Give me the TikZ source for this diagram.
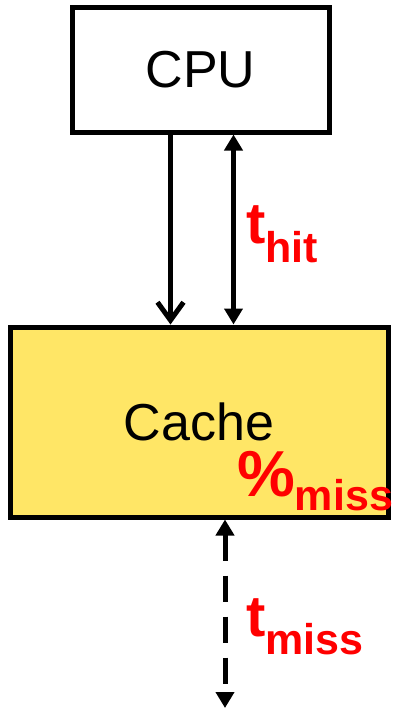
\documentclass[tikz,border=0pt]{standalone}
\usepackage{fontspec}
\setmainfont{Liberation Sans}
\usepackage{xcolor}
\usetikzlibrary{arrows.meta}

\definecolor{cacheyellow}{RGB}{255,230,102}

\begin{document}
\begin{tikzpicture}[x=1pt, y=-1pt,
    unit/.style={draw=black, line width=5pt, inner sep=0pt, font=\fontsize{52}{52}\selectfont},
    lat/.style={red, inner sep=0pt, anchor=base west},
    wire/.style={line width=5pt}]
  \useasboundingbox (0,0) rectangle (392,710);

  % boxes
  \node[unit, minimum width=257pt, minimum height=125pt] (cpu) at (200.5,69.5) {CPU};
  \node[unit, fill=cacheyellow, minimum width=378pt, minimum height=190pt] (cache) at (199,422) {Cache};
  \coordinate (mem) at (225,708);

  % connectors
  \draw[wire, -{Straight Barb[length=18pt, width=26pt]}] ([xshift=-30pt]cpu.south) -- ([xshift=-30pt]cpu.south |- cache.north);
  \draw[wire, {Triangle[length=16pt, width=18pt]}-{Triangle[length=16pt, width=18pt]}] ([xshift=33pt]cpu.south) -- ([xshift=33pt]cpu.south |- cache.north);
  \draw[wire, dash pattern=on 26pt off 15pt, {Triangle[length=16pt, width=18pt]}-{Triangle[length=16pt, width=18pt]}] ([xshift=26pt]cache.south) -- (mem);

  % latencies
  \node[lat, font=\bfseries\fontsize{58}{58}\selectfont] (thit) at (246,243) {t\raisebox{-19pt}{\fontsize{43}{43}\selectfont hit}};
  \node[lat, font=\bfseries\fontsize{65}{65}\selectfont] (pmiss) at (237,496) {\%\raisebox{-14pt}{\fontsize{43}{43}\selectfont miss}};
  \node[lat, font=\bfseries\fontsize{58}{58}\selectfont] (tmiss) at (246,636) {t\raisebox{-18pt}{\fontsize{43}{43}\selectfont miss}};
\end{tikzpicture}
\end{document}
